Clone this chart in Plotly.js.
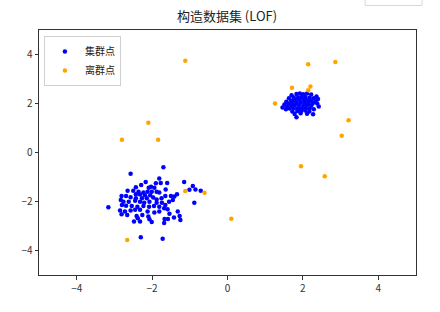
<!DOCTYPE html>
<html>
<head>
<meta charset="utf-8">
<script src="https://cdn.plot.ly/plotly-3.0.1.min.js"></script>
<style>html,body{margin:0;padding:0;background:#fff;}#chart{width:440px;height:312px;}</style>
</head>
<body>
<div id="chart"></div>
<script>
const chartTitle = "构造数据集 (LOF)";
const seriesNames = ["集群点", "离群点"];
const tickVals = [-4, -2, 0, 2, 4];

// 集群点 — cluster near (-2,-2)
const clusterAX = [-1.70,-2.57,-1.81,-2.17,-1.90,-1.77,-1.60,-1.15,-2.29,-2.03,-2.43,-2.09,-1.94,-0.92,-1.01,-0.85,-0.71,-1.64,-2.65,-2.50,
  -2.36,-2.23,-2.12,-2.01,-1.88,-2.43,-2.32,-2.19,-2.05,-1.81,-1.65,-1.50,-1.34,-1.41,-2.81,-2.69,-2.57,-2.43,-2.27,-2.14,
  -1.97,-1.88,-1.75,-1.45,-1.55,-2.83,-2.76,-2.62,-2.45,-2.32,-2.21,-2.07,-1.88,-1.74,-1.65,-0.88,-2.80,-2.69,-2.54,-2.39,
  -2.23,-2.08,-1.95,-1.81,-3.16,-1.68,-1.59,-2.85,-2.72,-2.57,-2.45,-2.32,-2.12,-1.94,-1.81,-1.32,-2.81,-2.66,-2.41,-2.26,
  -2.10,-1.54,-1.42,-1.27,-2.38,-2.07,-2.48,-2.32,-2.01,-1.67,-1.58,-1.25,-1.68,-2.30,-1.72];
const clusterAY = [-0.60,-0.87,-1.06,-1.20,-1.25,-1.24,-1.24,-1.20,-1.33,-1.40,-1.42,-1.44,-1.44,-1.37,-1.52,-1.51,-1.56,-1.51,-1.56,-1.56,
  -1.60,-1.63,-1.60,-1.60,-1.60,-1.70,-1.71,-1.74,-1.74,-1.63,-1.78,-1.78,-1.70,-1.80,-1.78,-1.78,-1.83,-1.87,-1.87,-1.87,
  -1.84,-1.92,-1.87,-1.94,-2.01,-1.94,-2.01,-2.01,-1.97,-2.01,-2.05,-2.01,-2.05,-2.05,-2.14,-2.05,-2.14,-2.17,-2.18,-2.21,
  -2.18,-2.21,-2.18,-2.21,-2.23,-2.28,-2.32,-2.37,-2.41,-2.37,-2.34,-2.34,-2.41,-2.45,-2.41,-2.41,-2.52,-2.55,-2.59,-2.55,
  -2.61,-2.50,-2.65,-2.59,-2.68,-2.72,-2.82,-2.82,-2.84,-2.71,-2.71,-2.75,-2.88,-3.46,-3.52];

// 集群点 — cluster near (2,2)
const clusterBX = [1.70,1.83,1.92,2.01,2.11,2.22,2.36,
  1.63,1.76,1.87,1.97,2.07,2.18,2.29,2.40,
  1.56,1.69,1.79,1.90,2.01,2.11,2.22,2.33,
  1.51,1.62,1.72,1.83,1.94,2.04,2.15,2.26,2.38,
  1.46,1.58,1.69,1.79,1.90,2.01,2.11,2.22,2.42,
  1.55,1.65,1.76,1.87,1.97,2.08,2.18,2.29,
  1.72,1.85,1.95,2.06,2.17,
  1.78,1.94,2.11,2.27,1.83];
const clusterBY = [2.34,2.39,2.41,2.38,2.41,2.37,2.29,
  2.21,2.25,2.25,2.27,2.26,2.23,2.21,2.18,
  2.07,2.11,2.14,2.15,2.15,2.12,2.11,2.08,
  1.96,2.00,2.02,2.04,2.04,2.02,2.02,2.00,2.00,
  1.84,1.88,1.91,1.94,1.94,1.91,1.94,1.91,1.88,
  1.77,1.80,1.81,1.81,1.80,1.80,1.80,1.77,
  1.67,1.69,1.69,1.71,1.67,
  1.57,1.60,1.58,1.56,1.44];

// 离群点
const outlierX = [-1.12,-2.80,-2.10,-1.84,-2.66,-1.12,-0.61,0.10,2.14,2.86,1.71,2.20,2.14,1.26,3.21,3.03,1.95,2.58];
const outlierY = [3.75,0.52,1.21,0.52,-3.57,-1.57,-1.64,-2.70,3.60,3.69,2.64,2.69,2.54,2.00,1.32,0.68,-0.56,-0.97];

const inlierX = clusterAX.concat(clusterBX);
const inlierY = clusterAY.concat(clusterBY);

const FONT = "'Noto Sans CJK SC', 'DejaVu Sans', sans-serif";

const traces = [
  {x: inlierX, y: inlierY, name: seriesNames[0], type: 'scatter', mode: 'markers',
   marker: {color: '#0000ff', size: 4.5, line: {width: 0}}},
  {x: outlierX, y: outlierY, name: seriesNames[1], type: 'scatter', mode: 'markers',
   marker: {color: '#ffa500', size: 4.5, line: {width: 0}}}
];

const axisCommon = {
  range: [-5, 5], tickvals: tickVals, ticks: 'outside', ticklen: 3.5, tickwidth: 1,
  tickcolor: '#333', showgrid: false, zeroline: false, showline: true, linecolor: '#333',
  linewidth: 1, mirror: true, tickfont: {family: FONT, size: 10, color: '#333'}
};

const layout = {
  width: 440, height: 312,
  margin: {l: 39, r: 24, t: 30, b: 37, pad: 0},
  paper_bgcolor: '#fff', plot_bgcolor: '#fff',
  title: {text: chartTitle, font: {family: FONT, size: 13, color: '#222'},
          x: 0.516, xanchor: 'center', y: 0.948, yanchor: 'middle'},
  xaxis: Object.assign({}, axisCommon),
  yaxis: Object.assign({}, axisCommon),
  showlegend: true,
  legend: {x: 0.013, y: 0.976, xanchor: 'left', yanchor: 'top',
           bgcolor: 'rgba(255,255,255,0.8)', bordercolor: '#d0d0d0', borderwidth: 1,
           font: {family: FONT, size: 10, color: '#222'}, itemwidth: 30, tracegroupgap: 0},
  shapes: [{type: 'rect', xref: 'paper', yref: 'paper', x0: 0.865, x1: 1.016, y0: 1.10, y1: 1.20,
            line: {color: '#d8d8d8', width: 1}, fillcolor: '#fff'}]
};

Plotly.newPlot('chart', traces, layout, {displayModeBar: false, staticPlot: true});
</script>
</body>
</html>
